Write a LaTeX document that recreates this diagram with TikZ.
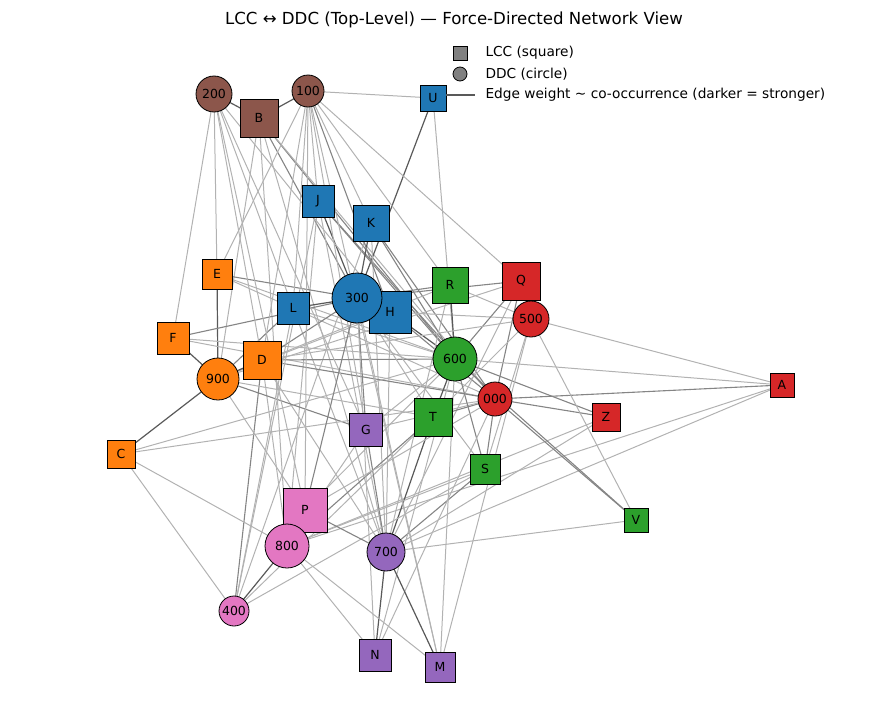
\documentclass[tikz,border=0pt]{standalone}
\usepackage{fontspec}
\setmainfont{DejaVu Sans}
\pgfdeclarelayer{bg}\pgfsetlayers{bg,main}
\begin{document}
\definecolor{cbr}{HTML}{8C564B}\definecolor{cbl}{HTML}{1F77B4}\definecolor{cor}{HTML}{FF7F0E}
\definecolor{cgr}{HTML}{2CA02C}\definecolor{cre}{HTML}{D62728}\definecolor{cpu}{HTML}{9467BD}\definecolor{cpi}{HTML}{E377C2}
\begin{tikzpicture}[x=1pt,y=-1pt,
 sq/.style={draw=black,line width=0.8pt,rectangle,minimum size=#1,inner sep=0pt,font=\fontsize{12.5}{12.5}\selectfont},
 ci/.style={draw=black,line width=0.8pt,circle,minimum size=#1,inner sep=0pt,font=\fontsize{12.5}{12.5}\selectfont},
 lg/.style={anchor=west,font=\fontsize{13.7}{13.7}\selectfont},
 l/.style={draw=black!30,line width=1pt},
 m/.style={draw=black!48,line width=1.1pt},
 d/.style={draw=black!65,line width=1.2pt}]
\useasboundingbox (0,0) rectangle (875,712);
\node[font=\fontsize{16.6}{16.6}\selectfont] (title) at (454,20) {LCC ↔ DDC (Top-Level) — Force-Directed Network View};
% nodes
\node[ci=36pt,fill=cbr] (n200) at (214,94) {200};
\node[sq=38pt,fill=cbr] (B) at (259,118) {B};
\node[ci=32pt,fill=cbr] (n100) at (308,91) {100};
\node[sq=26pt,fill=cbl] (U) at (433,98) {U};
\node[sq=32pt,fill=cbl] (J) at (318,201) {J};
\node[sq=36pt,fill=cbl] (K) at (371,223) {K};
\node[sq=30pt,fill=cor] (E) at (217,274) {E};
\node[sq=32pt,fill=cbl] (L) at (293,308) {L};
\node[sq=42pt,fill=cbl] (H) at (390,312) {H};
\node[ci=50pt,fill=cbl] (n300) at (357,298) {300};
\node[sq=36pt,fill=cgr] (R) at (450,285) {R};
\node[sq=38pt,fill=cre] (Q) at (521,281) {Q};
\node[ci=36pt,fill=cre] (n500) at (531,319) {500};
\node[sq=32pt,fill=cor] (F) at (173,338) {F};
\node[sq=38pt,fill=cor] (D) at (262,360) {D};
\node[ci=42pt,fill=cor] (n900) at (218,379) {900};
\node[ci=44pt,fill=cgr] (n600) at (455,359) {600};
\node[ci=34pt,fill=cre] (n000) at (495,399) {000};
\node[sq=24pt,fill=cre] (A) at (782,385) {A};
\node[sq=28pt,fill=cre] (Z) at (606,417) {Z};
\node[sq=38pt,fill=cgr] (T) at (433,417) {T};
\node[sq=33pt,fill=cpu] (G) at (366,430) {G};
\node[sq=28pt,fill=cor] (C) at (121,454) {C};
\node[sq=30pt,fill=cgr] (S) at (485,469) {S};
\node[sq=44pt,fill=cpi] (P) at (305,510) {P};
\node[sq=24pt,fill=cgr] (V) at (636,520) {V};
\node[ci=44pt,fill=cpi] (n800) at (287,546) {800};
\node[ci=38pt,fill=cpu] (n700) at (386,552) {700};
\node[ci=30pt,fill=cpi] (n400) at (234,611) {400};
\node[sq=32pt,fill=cpu] (N) at (375,655) {N};
\node[sq=30pt,fill=cpu] (M) at (440,667) {M};
% legend
\node[sq=14pt,fill=gray] (lsq) at (460,53) {};
\node[ci=14pt,fill=gray] (lci) at (460,74) {};
\coordinate (ll1) at (446,95); \coordinate (ll2) at (475,95);
\draw[black!65,line width=1.2pt] (ll1) -- (ll2);
\node[lg] (t1) at (482,53) {LCC (square)};
\node[lg] (t2) at (482,74) {DDC (circle)};
\node[lg] (t3) at (482,95) {Edge weight \textasciitilde{} co-occurrence (darker = stronger)};
% edges
\begin{pgfonlayer}{bg}
\foreach \a/\b/\s in {
B/n200/d,B/n100/d,B/n300/m,B/n600/m,B/n700/l,B/n900/l,B/n800/l,B/n000/l,
U/n100/l,U/n300/d,U/n600/l,
J/n300/d,J/n600/m,J/n100/l,J/n700/l,J/n000/m,J/n800/l,
K/n300/d,K/n100/l,K/n700/l,K/n600/m,K/n000/m,K/n400/l,
E/n300/m,E/n900/d,E/n100/l,E/n600/l,E/n000/l,E/n200/l,
L/n300/d,L/n900/m,L/n200/l,L/n600/l,L/n700/l,L/n100/l,
H/n300/d,H/n600/d,H/n000/m,H/n100/m,H/n700/l,H/n900/l,H/n500/l,H/n200/l,
R/n300/m,R/n600/d,R/n500/l,R/n900/l,R/n700/l,R/n100/l,
Q/n300/m,Q/n600/m,Q/n500/d,Q/n000/m,Q/n900/l,Q/n100/l,Q/n700/l,
F/n900/d,F/n300/m,F/n600/l,F/n200/l,F/n000/l,
D/n900/d,D/n300/m,D/n600/m,D/n000/m,D/n200/l,D/n100/l,D/n500/l,D/n700/l,D/n800/l,D/n400/m,
A/n000/m,A/n500/l,A/n700/l,A/n800/l,A/n600/l,
Z/n000/m,Z/n600/m,Z/n700/l,Z/n800/l,
T/n600/d,T/n000/m,T/n700/d,T/n300/l,T/n800/m,T/n900/l,T/n500/l,T/n400/l,
G/n300/m,G/n900/m,G/n600/l,G/n700/m,G/n000/l,G/n200/l,G/n100/l,G/n800/l,
C/n900/d,C/n000/l,C/n800/l,C/n400/l,C/n600/l,
S/n600/m,S/n000/m,S/n700/m,S/n500/l,S/n300/l,S/n800/l,S/n400/l,
P/n300/m,P/n800/m,P/n700/m,P/n600/l,P/n900/l,P/n100/l,P/n200/l,P/n000/l,
V/n000/m,V/n500/l,V/n700/l,V/n600/m,
N/n700/d,N/n300/l,N/n600/l,N/n800/l,N/n000/l,
M/n700/d,M/n300/l,M/n600/l,M/n800/l,M/n500/l,M/n100/l,
L/n400/l,J/n400/l,n400/n800/d}
{ \path[\s] (\a.center) -- (\b.center); }
\end{pgfonlayer}
\end{tikzpicture}
\end{document}
